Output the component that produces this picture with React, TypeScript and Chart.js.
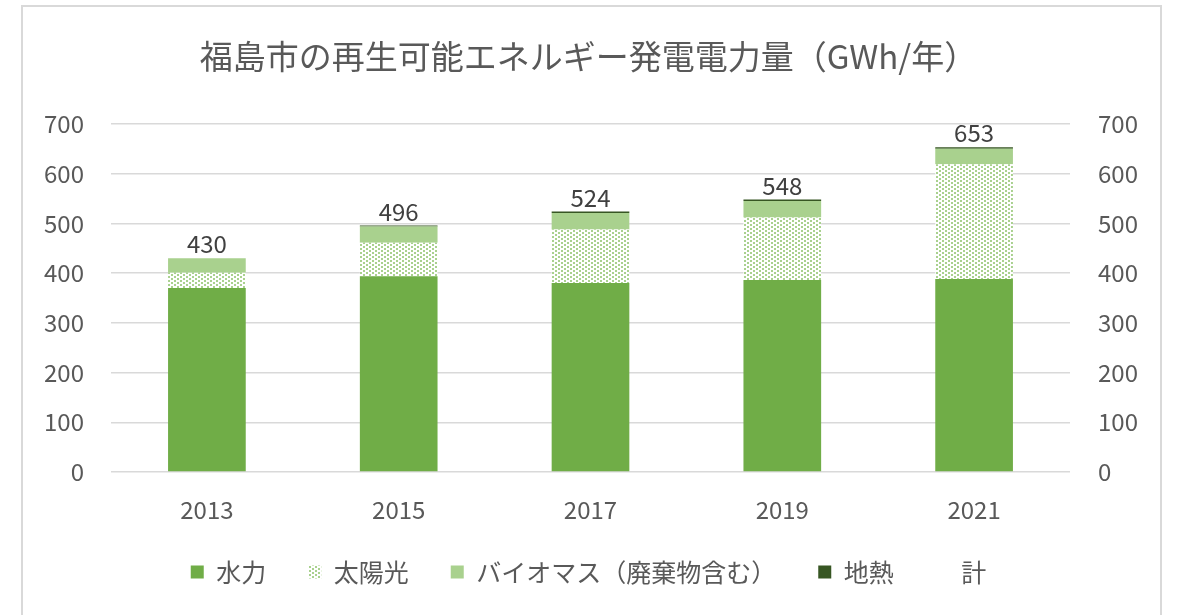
import React, { useEffect, useRef } from "react";
import { Chart, registerables } from "chart.js";

Chart.register(...registerables);

const titleText = "福島市の再生可能エネルギー発電電力量（GWh/年）";
const years = ["2013", "2015", "2017", "2019", "2021"];
const hydro = [370, 394, 380, 386, 388];
const solar = [31, 67, 108, 126, 231];
const biomass = [29, 33, 33, 33, 31];
const geothermal = [0, 2, 3, 3, 3];
const totals = [430, 496, 524, 548, 653];
const seriesNames = ["水力", "太陽光", "バイオマス（廃棄物含む）", "地熱", "計"];
const yMin = 0;
const yMax = 700;
const yStep = 100;

const FONT = "'Noto Sans CJK JP', 'Noto Sans', sans-serif";
const TEXT = "#595959";

function makeSolarPattern(): CanvasPattern | string {
  const c = document.createElement("canvas");
  c.width = 6;
  c.height = 4;
  const g = c.getContext("2d");
  if (!g) return "#c5e0b4";
  g.fillStyle = "#ffffff";
  g.fillRect(0, 0, 6, 4);
  g.fillStyle = "#a9d18e";
  g.fillRect(0, 0, 2, 2);
  g.fillRect(3, 2, 2, 2);
  const p = g.createPattern(c, "repeat");
  return p || "#c5e0b4";
}

const totalLabels = {
  id: "totalLabels",
  afterLayout(chart: any) {
    // let the x tick labels extend below the axis box without being clipped
    const xs = chart.scales.x;
    if (xs) xs.bottom = xs.top + 60;
  },
  afterDatasetsDraw(chart: any) {
    const ctx = chart.ctx;
    const meta = chart.getDatasetMeta(4);
    ctx.save();
    ctx.font = `24px ${FONT}`;
    ctx.fillStyle = "#404040";
    ctx.textAlign = "center";
    ctx.textBaseline = "bottom";
    meta.data.forEach((pt: any, i: number) => {
      ctx.fillText(String(totals[i]), pt.x, pt.y - 2);
    });
    ctx.restore();
  },
};

export default function App() {
  const ref = useRef<HTMLCanvasElement>(null);

  useEffect(() => {
    if (!ref.current) return;
    const solarFill = makeSolarPattern();
    const chart = new Chart(ref.current, {
      type: "bar",
      data: {
        labels: years,
        datasets: [
          { label: seriesNames[0], data: hydro, backgroundColor: "#70ad47", stack: "s" },
          { label: seriesNames[1], data: solar, backgroundColor: solarFill as any, stack: "s" },
          { label: seriesNames[2], data: biomass, backgroundColor: "#a9d18e", stack: "s" },
          { label: seriesNames[3], data: geothermal, backgroundColor: "#375623", stack: "s" },
          {
            type: "line" as any,
            label: seriesNames[4],
            data: totals,
            stack: "total",
            showLine: false,
            pointRadius: 0,
            borderColor: "rgba(0,0,0,0)",
            backgroundColor: "rgba(0,0,0,0)",
          } as any,
        ],
      },
      options: {
        animation: false,
        responsive: false,
        maintainAspectRatio: false,
        layout: { padding: { left: 0, right: 0, top: 0, bottom: 20.5 } },
        datasets: {
          bar: { categoryPercentage: 1, barPercentage: 0.405 },
        } as any,
        scales: {
          x: {
            stacked: true,
            grid: { display: false, drawTicks: false },
            border: { display: false },
            ticks: { color: TEXT, font: { size: 24, family: FONT }, padding: 23 },
            afterFit: (s: any) => {
              s.height = 45.5;
            },
          } as any,
          y: {
            stacked: true,
            position: "left",
            min: yMin,
            max: yMax,
            ticks: { stepSize: yStep, color: TEXT, font: { size: 24, family: FONT }, padding: 27 },
            grid: { color: "#d9d9d9", lineWidth: 1.5, drawTicks: false },
            border: { display: false },
            afterFit: (s: any) => {
              s.width = 111;
            },
          },
          y2: {
            position: "right",
            min: yMin,
            max: yMax,
            ticks: { stepSize: yStep, color: TEXT, font: { size: 24, family: FONT }, padding: 28 },
            grid: { display: false, drawTicks: false },
            border: { display: false },
            afterFit: (s: any) => {
              s.width = 107;
            },
          },
        },
        plugins: {
          title: {
            display: true,
            text: titleText,
            color: TEXT,
            font: { size: 33, family: FONT, weight: "normal" as any },
            padding: { top: 37, bottom: 47.4 },
          },
          legend: {
            display: true,
            position: "bottom",
            labels: {
              color: TEXT,
              font: { size: 25, family: FONT },
              boxWidth: 13,
              boxHeight: 13,
              padding: 42,
            },
          },
          tooltip: { enabled: false },
        },
      },
      plugins: [totalLabels],
    });
    return () => chart.destroy();
  }, []);

  return (
    <div style={{ position: "fixed", left: 0, top: 0, width: 1177, height: 615, background: "#fff", overflow: "hidden" }}>
      <div
        style={{
          position: "absolute",
          left: 21,
          top: 5,
          width: 1137,
          height: 660,
          border: "2px solid #d9d9d9",
          boxSizing: "content-box",
        }}
      />
      <canvas ref={ref} width={1177} height={615} style={{ position: "absolute", left: 0, top: 0 }} />
    </div>
  );
}
